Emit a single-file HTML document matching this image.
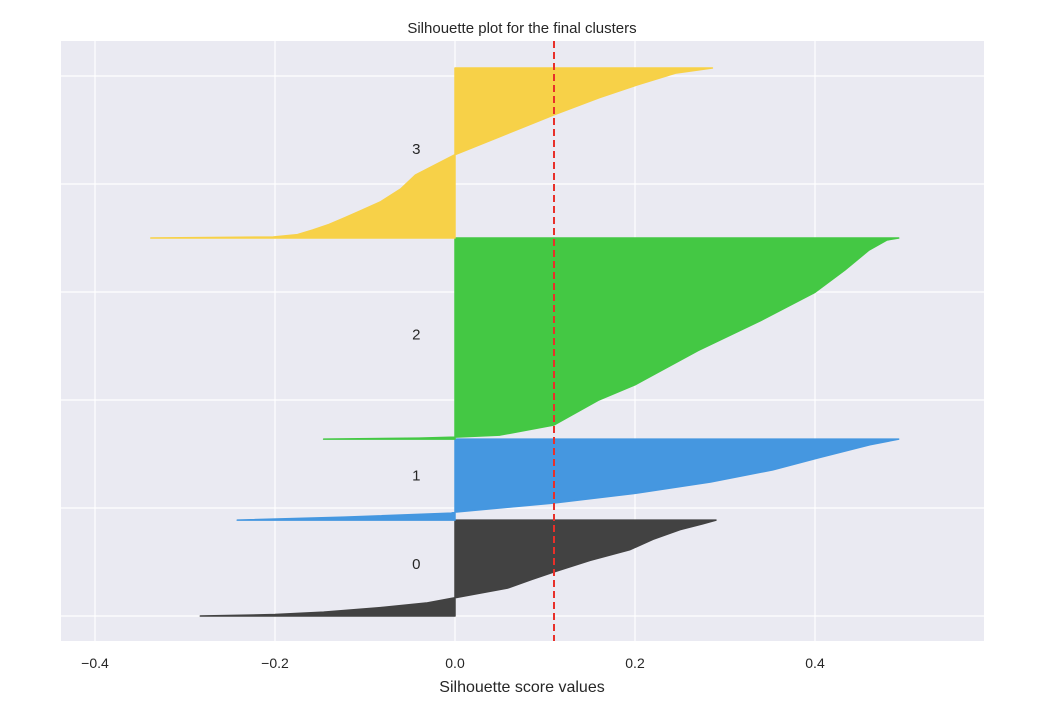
<!DOCTYPE html>
<html><head><meta charset="utf-8"><style>
body{margin:0;background:#fff;}
svg text{font-family:"Liberation Sans",sans-serif;fill:#262626;}
</style></head><body>
<svg id="chart" width="1059" height="709">
<rect x="61" y="41" width="923" height="600" fill="#eaeaf2"/>
<g id="grid"></g><g id="marks"></g><g id="labels"></g>
<text x="522" y="33" text-anchor="middle" font-size="15">Silhouette plot for the final clusters</text>
<text x="522" y="692" text-anchor="middle" font-size="16">Silhouette score values</text>
</svg>
<script>
const clusterNames=["0","1","2","3"];
const clusterStarts=[0,444,819,1750];
const clusterEnds=[444,819,1750,2537];
const clusterColors=["#424242","#4597e0","#44c844","#f7d148"];
const frac0=[0,.015,.04,.09,.135,.19,.29,.38,.46,.58,.69,.8,.9,.96,1];
const vals0=[-0.283,-0.2,-0.146,-0.08,-0.032,0,0.058,0.085,0.11,0.15,0.194,0.22,0.25,0.275,0.29];
const frac1=[0,.037,.086,.099,.21,.33,.47,.62,.77,.93,1];
const vals1=[-0.242,-0.123,-0.004,0,0.109,0.2,0.284,0.353,0.404,0.461,0.493];
const frac2=[0,.005,.01,.02,.07,.195,.27,.44,.59,.73,.84,.94,.99,1];
const vals2=[-0.146,-0.04,0,0.05,0.11,0.16,0.2,0.27,0.34,0.4,0.433,0.46,0.48,0.493];
const frac3=[0,.006,.02,.047,.08,.118,.16,.212,.29,.37,.49,.59,.725,.825,.9,.97,1];
const vals3=[-0.338,-0.202,-0.175,-0.158,-0.14,-0.123,-0.105,-0.083,-0.06,-0.044,0,0.047,0.11,0.16,0.202,0.245,0.286];
const xTicks=[-0.4,-0.2,0,0.2,0.4];
const xTickLabels=["\u22120.4","\u22120.2","0.0","0.2","0.4"];
const yGrid=[0,500,1000,1500,2000,2500];
const avgScore=0.11;
const NS="http://www.w3.org/2000/svg";
const X=v=>455+v*900, Y=d=>616-d*0.216;
const grid=document.getElementById('grid'),marks=document.getElementById('marks'),labels=document.getElementById('labels');
function mk(tag,attrs,parent){const e=document.createElementNS(NS,tag);for(const k in attrs)e.setAttribute(k,attrs[k]);parent.appendChild(e);return e;}
xTicks.forEach((t,i)=>{
 const l=mk('line',{x1:X(t),x2:X(t),y1:41,y2:641,stroke:'#fff','stroke-width':1.2},grid);
 
 
 const tx=mk('text',{x:X(t),y:668,'text-anchor':'middle','font-size':14},labels);
 tx.textContent=xTickLabels[i];
 
 
});
yGrid.forEach(g=>{
 const l=mk('line',{x1:61,x2:984,y1:Y(g),y2:Y(g),stroke:'#fff','stroke-width':1.2},grid);
 
 
});
const fr=[frac0,frac1,frac2,frac3],vs=[vals0,vals1,vals2,vals3];
clusterNames.forEach((n,c)=>{
 const s=clusterStarts[c],e=clusterEnds[c];
 let d=`M${X(0)},${Y(s)}`;
 fr[c].forEach((f,i)=>{d+=` L${X(vs[c][i])},${Y(s+f*(e-s))}`;});
 d+=` L${X(0)},${Y(e)} Z`;
 const p=mk('path',{d:d,fill:clusterColors[c],stroke:clusterColors[c],'stroke-width':1.5,'stroke-linejoin':'round'},marks);
 
 
 const t=mk('text',{x:X(-0.043),y:Y((s+e)/2)+1,'text-anchor':'middle','font-size':15},labels);
 t.textContent=n;
 
 
});
const avg=mk('line',{x1:X(avgScore),x2:X(avgScore),y1:41,y2:641,stroke:'#e8302a','stroke-width':2,'stroke-dasharray':'7,4'},marks);


</script>
</body></html>
